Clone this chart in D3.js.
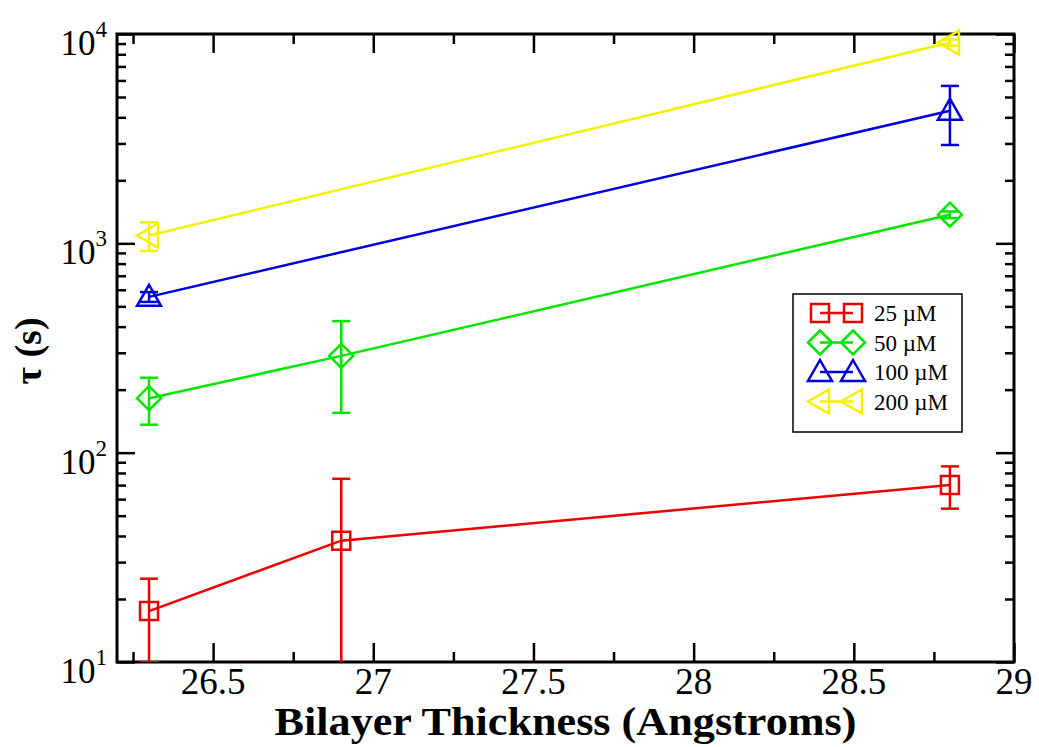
<!DOCTYPE html>
<html>
<head>
<meta charset="utf-8">
<script src="https://cdn.jsdelivr.net/npm/d3@7"></script>
<style>
  body { margin: 0; background: #fff; }
  svg { display: block; font-family: "Liberation Serif", "Times New Roman", serif; }
</style>
</head>
<body>
<div id="chart"></div>
<script>
// series data
const seriesNames = ['25 \u00b5M', '50 \u00b5M', '100 \u00b5M', '200 \u00b5M'];
const seriesColors = ['#ee0000', '#00e600', '#0000dd', '#f2f200'];
const seriesShapes = ['square', 'diamond', 'triangle', 'left'];

const x25 = [26.3, 26.9, 28.8];
const tau25 = [17.5, 38, 70];
const err25 = [7.5, 37, 16];

const x50 = [26.3, 26.9, 28.8];
const tau50 = [182, 290, 1370];
const err50 = [46, 135, 50];

const x100 = [26.3, 28.8];
const tau100 = [555, 4300];
const err100 = [30, 1350];

const x200 = [26.3, 28.8];
const tau200 = [1090, 9100];
const err200 = [170, 300];

const xMajor = [26.5, 27, 27.5, 28, 28.5, 29];
const xMinor = [26.25, 26.75, 27.25, 27.75, 28.25, 28.75];
const yMajor = [10, 100, 1000, 10000];
const yExp = ['1', '2', '3', '4'];

(function() {
  'use strict';

  const W = 1039, H = 747,
        margin = { left: 117, right: 25, top: 34, bottom: 85 },
        iw = W - margin.left - margin.right,
        ih = H - margin.top - margin.bottom;

  const svg = d3.select('#chart').append('svg')
    .attr('width', W)
    .attr('height', H);

  const x = d3.scaleLinear().domain([26.2, 29]).range([0, iw]);
  const y = d3.scaleLog().domain([10, 10000]).range([ih, 0]);

  const g = svg.append('g').attr('transform', `translate(${margin.left},${margin.top})`);

  g.append('clipPath').attr('id', 'clip')
    .append('rect').attr('x', -20).attr('y', -20).attr('width', iw + 40).attr('height', ih + 20);

  // minor y ticks 2..9 x 10^n
  const yMinor = [];
  [10, 100, 1000].forEach(b => { for (let k = 2; k <= 9; k++) yMinor.push(b * k); });

  const styleAxis = sel => {
    sel.select('.domain').remove();
    sel.selectAll('line').attr('stroke', '#000').attr('stroke-width', 2.5);
    sel.selectAll('text').remove();
  };

  // inward ticks on all four sides
  g.append('g').attr('transform', `translate(0,${ih})`)
    .call(d3.axisBottom(x).tickValues(xMajor).tickSize(-19)).call(styleAxis);
  g.append('g').attr('transform', `translate(0,${ih})`)
    .call(d3.axisBottom(x).tickValues(xMinor).tickSize(-10)).call(styleAxis);
  g.append('g')
    .call(d3.axisTop(x).tickValues(xMajor).tickSize(-19)).call(styleAxis);
  g.append('g')
    .call(d3.axisTop(x).tickValues(xMinor).tickSize(-10)).call(styleAxis);
  g.append('g')
    .call(d3.axisLeft(y).tickValues(yMajor).tickSize(-18)).call(styleAxis);
  g.append('g')
    .call(d3.axisLeft(y).tickValues(yMinor).tickSize(-9)).call(styleAxis);
  g.append('g').attr('transform', `translate(${iw},0)`)
    .call(d3.axisRight(y).tickValues(yMajor).tickSize(-18)).call(styleAxis);
  g.append('g').attr('transform', `translate(${iw},0)`)
    .call(d3.axisRight(y).tickValues(yMinor).tickSize(-9)).call(styleAxis);

  // frame
  g.append('rect')
    .attr('width', iw).attr('height', ih)
    .attr('fill', 'none').attr('stroke', '#000').attr('stroke-width', 3);

  // x tick labels
  g.selectAll('.xlab').data(xMajor).enter().append('text')
    .attr('class', 'xlab')
    .attr('x', d => x(d))
    .attr('y', ih + 32)
    .attr('text-anchor', 'middle')
    .style('font-size', '37px')
    .text(d => d);

  // y tick labels 10^n
  yMajor.forEach((v, i) => {
    const t = g.append('text')
      .attr('x', -10)
      .attr('y', y(v) + 21)
      .attr('text-anchor', 'end')
      .style('font-size', '35px');
    t.append('tspan').text('10');
    t.append('tspan').attr('dy', -18).style('font-size', '23px').text(yExp[i]);
  });

  // axis titles
  svg.append('text')
    .attr('x', margin.left + iw / 2)
    .attr('y', 735)
    .attr('text-anchor', 'middle')
    .attr('textLength', 582)
    .attr('lengthAdjust', 'spacingAndGlyphs')
    .style('font-size', '39px')
    .style('font-weight', 'bold')
    .text('Bilayer Thickness (Angstroms)');

  svg.append('text')
    .attr('transform', `translate(41,${margin.top + ih / 2 + 3}) rotate(-90)`)
    .attr('text-anchor', 'middle')
    .style('font-size', '38px')
    .style('font-weight', 'bold')
    .text('\u03c4 (s)');

  /**
   * Marker path by shape
   */
  const marker = (shape, cx, cy) => {
    switch (shape) {
      case 'square':
        return `M${cx - 9},${cy - 9}h18v18h-18Z`;
      case 'diamond':
        return `M${cx},${cy - 12}L${cx + 12},${cy}L${cx},${cy + 12}L${cx - 12},${cy}Z`;
      case 'triangle':
        return `M${cx},${cy - 12}L${cx + 12},${cy + 9}L${cx - 12},${cy + 9}Z`;
      case 'left':
        return `M${cx - 12},${cy}L${cx + 9},${cy - 12}L${cx + 9},${cy + 12}Z`;
      default:
        return '';
    }
  };

  const series = [
    { xs: x25, ys: tau25, es: err25 },
    { xs: x50, ys: tau50, es: err50 },
    { xs: x100, ys: tau100, es: err100 },
    { xs: x200, ys: tau200, es: err200 }
  ];

  const line = d3.line().x(d => x(d[0])).y(d => y(d[1]));
  const plot = g.append('g').attr('clip-path', 'url(#clip)');

  series.forEach((s, i) => {
    const col = seriesColors[i],
          pts = s.xs.map((xv, j) => [xv, s.ys[j], s.es[j]]);

    plot.append('path')
      .datum(pts)
      .attr('d', line)
      .attr('fill', 'none')
      .attr('stroke', col)
      .attr('stroke-width', 2.5);

    pts.forEach(p => {
      const cx = x(p[0]),
            lo = p[1] - p[2],
            yTop = y(p[1] + p[2]),
            yBot = lo > 0 ? y(lo) : ih + 50;
      const eb = plot.append('g').attr('stroke', col).attr('stroke-width', 2.5).attr('fill', 'none');
      eb.append('line').attr('x1', cx).attr('x2', cx).attr('y1', yTop).attr('y2', yBot);
      eb.append('line').attr('x1', cx - 9).attr('x2', cx + 9).attr('y1', yTop).attr('y2', yTop);
      if (lo > 0) {
        eb.append('line').attr('x1', cx - 9).attr('x2', cx + 9).attr('y1', yBot).attr('y2', yBot);
      }
      plot.append('path')
        .attr('d', marker(seriesShapes[i], cx, y(p[1])))
        .attr('fill', 'none')
        .attr('stroke', col)
        .attr('stroke-width', 2.5);
    });
  });

  // legend
  const lg = svg.append('g').attr('transform', 'translate(793,294)');
  lg.append('rect')
    .attr('width', 169).attr('height', 138)
    .attr('fill', '#fff').attr('stroke', '#000').attr('stroke-width', 1.5);

  seriesNames.forEach((name, i) => {
    const cy = 19 + i * 29.5, col = seriesColors[i];
    lg.append('line')
      .attr('x1', 27).attr('x2', 60).attr('y1', cy).attr('y2', cy)
      .attr('stroke', col).attr('stroke-width', 2.5);
    [27, 60].forEach(cx => {
      lg.append('path')
        .attr('d', marker(seriesShapes[i], cx, cy))
        .attr('fill', 'none')
        .attr('stroke', col)
        .attr('stroke-width', 2.5);
    });
    lg.append('text')
      .attr('x', 81)
      .attr('y', cy + 8)
      .style('font-size', '23px')
      .text(name);
  });
})();
</script>
</body>
</html>
